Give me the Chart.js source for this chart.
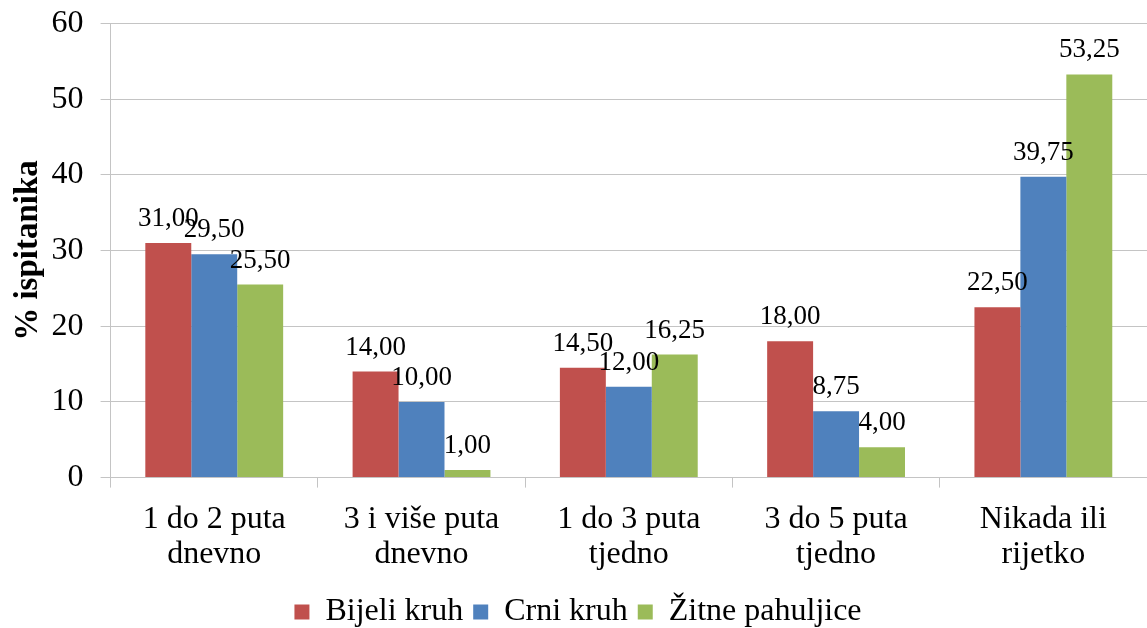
<!DOCTYPE html>
<html>
<head>
<meta charset="utf-8">
<script src="https://cdn.jsdelivr.net/npm/chart.js@4/dist/chart.umd.min.js"></script>
<style>
  html, body { margin: 0; padding: 0; background: #ffffff; }
  #wrap { width: 1147px; height: 628px; position: relative; }
</style>
</head>
<body>
<div id="wrap"><canvas id="grafikon"></canvas></div>
<script>
// --- Podaci ---
const kategorije = [
    ['1 do 2 puta', 'dnevno'],
    ['3 i više puta', 'dnevno'],
    ['1 do 3 puta', 'tjedno'],
    ['3 do 5 puta', 'tjedno'],
    ['Nikada ili', 'rijetko']
];
const bijeliKruh = [31.00, 14.00, 14.50, 18.00, 22.50];
const crniKruh = [29.50, 10.00, 12.00, 8.75, 39.75];
const zitnePahuljice = [25.50, 1.00, 16.25, 4.00, 53.25];
const yTicks = [0, 10, 20, 30, 40, 50, 60];

const font = "'Liberation Serif', 'Times New Roman', serif";
const gridColor = '#c4c4c4';

// --- Oznake vrijednosti iznad stupaca ---
const oznakePlugin = {
    id: 'oznake',
    afterDatasetsDraw(chart) {
        const ctx = chart.ctx;
        ctx.save();
        ctx.font = '27px ' + font;
        ctx.fillStyle = '#000';
        ctx.textAlign = 'center';
        ctx.textBaseline = 'alphabetic';
        chart.data.datasets.forEach((ds, i) => {
            chart.getDatasetMeta(i).data.forEach((bar, j) => {
                const txt = ds.data[j].toFixed(2).replace('.', ',');
                ctx.fillText(txt, bar.x, bar.y - 17);
            });
        });
        ctx.restore();
    }
};

new Chart(document.getElementById('grafikon'), {
    type: 'bar',
    data: {
        labels: kategorije,
        datasets: [
            { label: 'Bijeli kruh', data: bijeliKruh, backgroundColor: '#C0504D' },
            { label: 'Crni kruh', data: crniKruh, backgroundColor: '#4F81BD' },
            { label: 'Žitne pahuljice', data: zitnePahuljice, backgroundColor: '#9BBB59' }
        ]
    },
    options: {
        responsive: true,
        maintainAspectRatio: false,
        animation: false,
        layout: { padding: { left: 9, top: 0, right: 0, bottom: -10 } },
        datasets: {
            bar: { categoryPercentage: 0.665, barPercentage: 1.0 }
        },
        plugins: {
            legend: {
                position: 'bottom',
                labels: {
                    color: '#000',
                    boxWidth: 15,
                    boxHeight: 15,
                    padding: 10,
                    font: { size: 32, family: font }
                }
            },
            tooltip: { enabled: false }
        },
        scales: {
            x: {
                grid: {
                    offset: true,
                    drawOnChartArea: false,
                    drawTicks: true,
                    tickLength: 10,
                    color: gridColor
                },
                border: { color: gridColor },
                ticks: {
                    color: '#000',
                    padding: 14,
                    maxRotation: 0,
                    font: { size: 32, family: font, lineHeight: 1.1 }
                }
            },
            y: {
                min: 0,
                max: 60,
                afterBuildTicks: axis => { axis.ticks = yTicks.map(v => ({ value: v })); },
                grid: { color: gridColor, tickLength: 10 },
                border: { color: gridColor },
                ticks: {
                    color: '#000',
                    padding: 17,
                    font: { size: 32, family: font, lineHeight: 0.4 }
                },
                title: {
                    display: true,
                    text: '% ispitanika',
                    color: '#000',
                    padding: { top: 0, bottom: -14 },
                    font: { size: 33, weight: 'bold', family: font }
                }
            }
        }
    },
    plugins: [oznakePlugin]
});
</script>
</body>
</html>
